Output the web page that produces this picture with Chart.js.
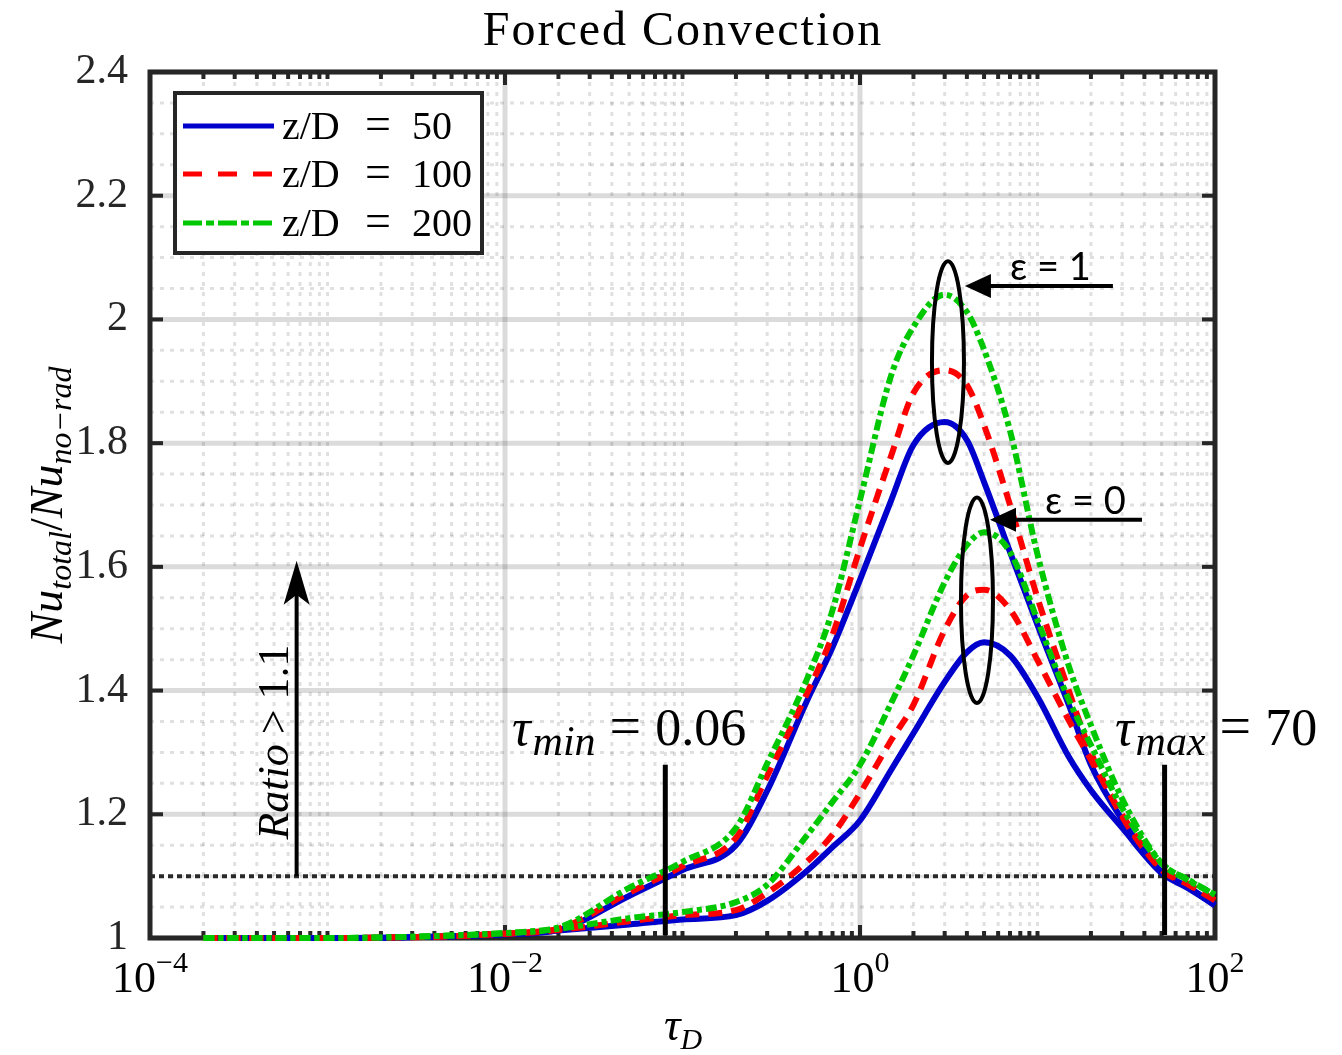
<!DOCTYPE html>
<html>
<head>
<meta charset="utf-8">
<script src="https://cdn.jsdelivr.net/npm/chart.js@4.4.0/dist/chart.umd.min.js"></script>
<style>
html, body { margin: 0; padding: 0; background: #fff; }
</style>
</head>
<body>
<canvas id="myChart" width="1342" height="1055"></canvas>
<script>
// tau_D sample points (x axis, log)
var tau = [2e-4, 1e-3, 5e-3, 0.01, 0.02, 0.05, 0.1, 0.2, 0.3, 0.5, 0.7, 1, 1.5, 2, 3, 4, 5, 7, 10, 15, 20, 30, 50, 70, 100];

// epsilon = 1
var eps1_zD50  = [1.000, 1.000, 1.003, 1.006, 1.013, 1.068, 1.110, 1.150, 1.238, 1.382, 1.470, 1.579, 1.708, 1.797, 1.834, 1.805, 1.737, 1.624, 1.506, 1.377, 1.280, 1.191, 1.107, 1.083, 1.053];
var eps1_zD100 = [1.000, 1.000, 1.003, 1.007, 1.015, 1.073, 1.116, 1.162, 1.262, 1.394, 1.490, 1.630, 1.780, 1.881, 1.918, 1.894, 1.829, 1.700, 1.550, 1.400, 1.300, 1.196, 1.112, 1.088, 1.061];
var eps1_zD200 = [1.000, 1.000, 1.004, 1.008, 1.017, 1.081, 1.123, 1.178, 1.282, 1.417, 1.530, 1.708, 1.910, 1.988, 2.040, 2.012, 1.951, 1.820, 1.620, 1.440, 1.344, 1.225, 1.121, 1.095, 1.070];

// epsilon = 0
var eps0_zD50  = [1.000, 1.000, 1.003, 1.006, 1.012, 1.022, 1.030, 1.037, 1.060, 1.108, 1.147, 1.190, 1.272, 1.331, 1.414, 1.462, 1.478, 1.457, 1.390, 1.293, 1.239, 1.178, 1.105, 1.081, 1.053];
var eps0_zD100 = [1.000, 1.000, 1.003, 1.007, 1.013, 1.027, 1.037, 1.045, 1.073, 1.123, 1.167, 1.234, 1.320, 1.377, 1.498, 1.554, 1.563, 1.531, 1.449, 1.352, 1.288, 1.199, 1.110, 1.087, 1.061];
var eps0_zD200 = [1.000, 1.000, 1.004, 1.008, 1.015, 1.032, 1.042, 1.058, 1.086, 1.165, 1.220, 1.280, 1.380, 1.457, 1.575, 1.635, 1.656, 1.624, 1.514, 1.385, 1.312, 1.210, 1.121, 1.094, 1.070];

var seriesLabels = ['z/D = 50', 'z/D = 100', 'z/D = 200'];
var yTicks = [1, 1.2, 1.4, 1.6, 1.8, 2, 2.2, 2.4];
var xDecades = [-4, -2, 0, 2];

// annotations (data units)
var ratioLine = 1.1;
var tauMinLine = 0.08, tauMaxLine = 52, markTop = 1.28;
var ratioArrowX = 6.7e-4, ratioArrowTop = 1.61;
var ellipse1 = { x: 3.13, y: 1.931, ry: 0.163 };
var ellipse0 = { x: 4.56, y: 1.546, ry: 0.166 };
var arrow1 = { y: 2.054, from: 26.6, to: 3.9 };
var arrow0 = { y: 1.676, from: 38.8, to: 5.4 };

var BLUE = '#0000CC', RED = '#FF0000', GREEN = '#00C800';
var SERIF = '"Liberation Serif", "DejaVu Serif", serif';

function pts(vals) {
    return vals.map(function(v, i) { return { x: tau[i], y: v }; });
}

function ds(label, vals, color, dash, order) {
    return {
        label: label,
        data: pts(vals),
        borderColor: color,
        borderWidth: 6,
        borderDash: dash,
        borderJoinStyle: 'round',
        pointRadius: 0,
        fill: false,
        clip: 8,
        cubicInterpolationMode: 'monotone',
        order: order
    };
}

var dashRed = [14, 9];
var dashGreen = [11, 4, 5, 4];

var datasets = [
    ds(seriesLabels[0], eps1_zD50, BLUE, [], 2),
    ds(seriesLabels[1], eps1_zD100, RED, dashRed, 1),
    ds(seriesLabels[2], eps1_zD200, GREEN, dashGreen, 0),
    ds(seriesLabels[0], eps0_zD50, BLUE, [], 2),
    ds(seriesLabels[1], eps0_zD100, RED, dashRed, 1),
    ds(seriesLabels[2], eps0_zD200, GREEN, dashGreen, 0)
];

function line(ctx, x1, y1, x2, y2) {
    ctx.beginPath();
    ctx.moveTo(x1, y1);
    ctx.lineTo(x2, y2);
    ctx.stroke();
}

// text made of pieces (for sub/superscripts)
function rich(ctx, segs, x, y, rot, align) {
    ctx.save();
    ctx.translate(x, y);
    if (rot) ctx.rotate(rot);
    var total = 0;
    segs.forEach(function(s) {
        ctx.font = s.f;
        s.w = ctx.measureText(s.t).width;
        total += s.w + (s.gap || 0);
    });
    var cx = align === 'center' ? -total / 2 : (align === 'right' ? -total : 0);
    ctx.textAlign = 'left';
    ctx.textBaseline = 'alphabetic';
    segs.forEach(function(s) {
        ctx.font = s.f;
        ctx.fillStyle = '#000';
        ctx.fillText(s.t, cx, s.dy || 0);
        cx += s.w + (s.gap || 0);
    });
    ctx.restore();
}

function arrowLeft(ctx, x1, x2, y) {
    ctx.lineWidth = 4;
    line(ctx, x1, y, x2 + 20, y);
    ctx.beginPath();
    ctx.moveTo(x2, y);
    ctx.lineTo(x2 + 26, y - 12);
    ctx.lineTo(x2 + 26, y + 12);
    ctx.closePath();
    ctx.fill();
}

var gridPlugin = {
    id: 'grid',
    beforeDatasetsDraw: function(chart) {
        var ctx = chart.ctx, xs = chart.scales.x, ys = chart.scales.y, a = chart.chartArea;
        ctx.save();
        // minor grid
        ctx.strokeStyle = 'rgba(0,0,0,0.12)';
        ctx.lineWidth = 3;
        ctx.setLineDash([4, 6]);
        for (var e = -4; e < 2; e++) {
            for (var m = 1; m <= 9; m++) {
                if (m === 1 && e % 2 === 0) continue;
                var px = xs.getPixelForValue(m * Math.pow(10, e));
                line(ctx, px, a.top, px, a.bottom);
            }
        }
        for (var k = 1; k < 28; k++) {
            if (k % 4 === 0) continue;
            var py = ys.getPixelForValue(1 + k * 0.05);
            line(ctx, a.left, py, a.right, py);
        }
        // major grid
        ctx.setLineDash([]);
        ctx.strokeStyle = 'rgba(0,0,0,0.14)';
        ctx.lineWidth = 5;
        [-2, 0].forEach(function(d) {
            var gx = xs.getPixelForValue(Math.pow(10, d));
            line(ctx, gx, a.top, gx, a.bottom);
        });
        yTicks.forEach(function(v) {
            var gy = ys.getPixelForValue(v);
            line(ctx, a.left, gy, a.right, gy);
        });
        // ratio = 1.1 line
        ctx.strokeStyle = '#2a2a2a';
        ctx.lineWidth = 4;
        ctx.setLineDash([5, 4]);
        var ry = ys.getPixelForValue(ratioLine);
        line(ctx, a.left, ry, a.right, ry);

        // axes box with inward ticks
        ctx.setLineDash([]);
        ctx.strokeStyle = '#262626';
        ctx.lineWidth = 5;
        ctx.strokeRect(a.left, a.top, a.right - a.left, a.bottom - a.top);
        ctx.lineWidth = 4;
        for (var e2 = -4; e2 <= 2; e2++) {
            var tx = xs.getPixelForValue(Math.pow(10, e2));
            var len = e2 % 2 === 0 ? 13 : 7;
            line(ctx, tx, a.bottom, tx, a.bottom - len);
            line(ctx, tx, a.top, tx, a.top + len);
            if (e2 === 2) break;
            for (var m2 = 2; m2 <= 9; m2++) {
                var mx = xs.getPixelForValue(m2 * Math.pow(10, e2));
                line(ctx, mx, a.bottom, mx, a.bottom - 7);
                line(ctx, mx, a.top, mx, a.top + 7);
            }
        }
        yTicks.forEach(function(v) {
            var ty = ys.getPixelForValue(v);
            line(ctx, a.left, ty, a.left + 13, ty);
            line(ctx, a.right, ty, a.right - 13, ty);
        });
        ctx.restore();
    },
    afterDatasetsDraw: function(chart) {
        var ctx = chart.ctx, xs = chart.scales.x, ys = chart.scales.y, a = chart.chartArea;
        ctx.save();
        ctx.setLineDash([]);
        ctx.strokeStyle = '#000';
        ctx.fillStyle = '#000';

        // tau min / max markers
        ctx.lineWidth = 5;
        [tauMinLine, tauMaxLine].forEach(function(t) {
            var px = xs.getPixelForValue(t);
            line(ctx, px, ys.getPixelForValue(markTop), px, a.bottom - 3);
        });

        // ratio arrow
        var ax = xs.getPixelForValue(ratioArrowX);
        var at = ys.getPixelForValue(ratioArrowTop);
        ctx.lineWidth = 4;
        line(ctx, ax, ys.getPixelForValue(ratioLine), ax, at + 25);
        ctx.beginPath();
        ctx.moveTo(ax, at);
        ctx.lineTo(ax - 13, at + 44);
        ctx.lineTo(ax, at + 34);
        ctx.lineTo(ax + 13, at + 44);
        ctx.closePath();
        ctx.fill();

        // ellipses
        ctx.lineWidth = 4;
        [ellipse1, ellipse0].forEach(function(el) {
            var cx = xs.getPixelForValue(el.x), cy = ys.getPixelForValue(el.y);
            var ryp = ys.getPixelForValue(el.y - el.ry) - cy;
            ctx.beginPath();
            ctx.ellipse(cx, cy, 16, ryp, 0, 0, Math.PI * 2);
            ctx.stroke();
        });

        // epsilon arrows
        [arrow1, arrow0].forEach(function(ar) {
            arrowLeft(ctx, xs.getPixelForValue(ar.from), xs.getPixelForValue(ar.to), ys.getPixelForValue(ar.y));
        });

        // x tick labels 10^n
        xDecades.forEach(function(e) {
            var px = xs.getPixelForValue(Math.pow(10, e));
            var sup = e < 0 ? '\u2212' + (-e) : String(e);
            rich(ctx, [
                { t: '10', f: '44px ' + SERIF },
                { t: sup, f: '30px ' + SERIF, dy: -20 }
            ], px, 992, 0, 'center');
        });

        // axis titles
        rich(ctx, [
            { t: '\u03C4', f: 'italic 46px ' + SERIF },
            { t: 'D', f: 'italic 30px ' + SERIF, dy: 9 }
        ], 683, 1040, 0, 'center');
        rich(ctx, [
            { t: 'Nu', f: 'italic 46px ' + SERIF },
            { t: 'total', f: 'italic 32px ' + SERIF, dy: 9 },
            { t: '/', f: '46px ' + SERIF },
            { t: 'Nu', f: 'italic 46px ' + SERIF },
            { t: 'no\u2212rad', f: 'italic 32px ' + SERIF, dy: 9 }
        ], 62, 505, -Math.PI / 2, 'center');

        // title
        ctx.fillStyle = '#000';
        if ('letterSpacing' in ctx) ctx.letterSpacing = '2px';
        ctx.font = '48px ' + SERIF;
        ctx.textAlign = 'center';
        ctx.textBaseline = 'alphabetic';
        ctx.fillText('Forced Convection', 683, 45);
        if ('letterSpacing' in ctx) ctx.letterSpacing = '0px';

        // ratio text
        rich(ctx, [
            { t: 'Ratio', f: 'italic 44px ' + SERIF, gap: 10 },
            { t: '>', f: '44px ' + SERIF, gap: 10 },
            { t: '1.1', f: '44px ' + SERIF }
        ], 288, 742, -Math.PI / 2, 'center');

        // tau min / max labels
        rich(ctx, [
            { t: '\u03C4', f: 'italic 52px ' + SERIF, gap: 2 },
            { t: 'min', f: 'italic 42px ' + SERIF, dy: 10, gap: 14 },
            { t: '=', f: '56px ' + SERIF, gap: 14 },
            { t: '0.06', f: '52px ' + SERIF }
        ], 512, 745, 0, 'left');
        rich(ctx, [
            { t: '\u03C4', f: 'italic 52px ' + SERIF, gap: 2 },
            { t: 'max', f: 'italic 42px ' + SERIF, dy: 10, gap: 14 },
            { t: '=', f: '56px ' + SERIF, gap: 14 },
            { t: '70', f: '52px ' + SERIF }
        ], 1115, 745, 0, 'left');

        // epsilon labels
        rich(ctx, [{ t: '\u03B5 = 1', f: '38px Lato, "Open Sans", sans-serif' }], 1010, 280, 0, 'left');
        rich(ctx, [{ t: '\u03B5 = 0', f: '38px Lato, "Open Sans", sans-serif' }], 1045, 514, 0, 'left');

        // legend
        var lx = 175, ly = 93, lw = 307, lh = 160;
        ctx.fillStyle = '#fff';
        ctx.fillRect(lx, ly, lw, lh);
        ctx.strokeStyle = '#262626';
        ctx.lineWidth = 4;
        ctx.strokeRect(lx, ly, lw, lh);
        var rows = [126, 174, 223];
        var legDash = [[], [19, 16], [19, 4, 8, 4]];
        for (var i = 0; i < 3; i++) {
            var d = chart.data.datasets[i];
            ctx.strokeStyle = d.borderColor;
            ctx.lineWidth = 5;
            ctx.setLineDash(legDash[i]);
            line(ctx, 183, rows[i], 274, rows[i]);
            ctx.setLineDash([]);
            var parts = d.label.split(' = ');
            ctx.fillStyle = '#000';
            ctx.font = '40px ' + SERIF;
            ctx.textAlign = 'left';
            ctx.fillText(parts[0], 282, rows[i] + 13);
            ctx.font = '46px ' + SERIF;
            ctx.fillText('=', 365, rows[i] + 13);
            ctx.font = '40px ' + SERIF;
            ctx.fillText(parts[1], 412, rows[i] + 13);
        }
        ctx.restore();
    }
};

var ctx = document.getElementById('myChart').getContext('2d');
window.myChart = new Chart(ctx, {
    type: 'line',
    data: { datasets: datasets },
    plugins: [gridPlugin],
    options: {
        responsive: false,
        animation: false,
        layout: { padding: { top: 72, right: 127, bottom: 0, left: 0 } },
        plugins: {
            legend: { display: false },
            tooltip: { enabled: false },
            title: { display: false }
        },
        scales: {
            x: {
                type: 'logarithmic',
                min: 1e-4,
                max: 100,
                grid: { display: false },
                border: { display: false },
                ticks: { display: false },
                afterFit: function(scale) { scale.height = 117; }
            },
            y: {
                type: 'linear',
                min: 1,
                max: 2.4,
                grid: { display: false },
                border: { display: false },
                afterBuildTicks: function(scale) {
                    scale.ticks = yTicks.map(function(v) { return { value: v }; });
                },
                ticks: {
                    padding: 14,
                    color: '#262626',
                    font: { family: SERIF, size: 42 },
                    callback: function(v) { return String(Number(v.toFixed(1))); }
                },
                afterFit: function(scale) { scale.width = 150; }
            }
        }
    }
});
</script>
</body>
</html>
